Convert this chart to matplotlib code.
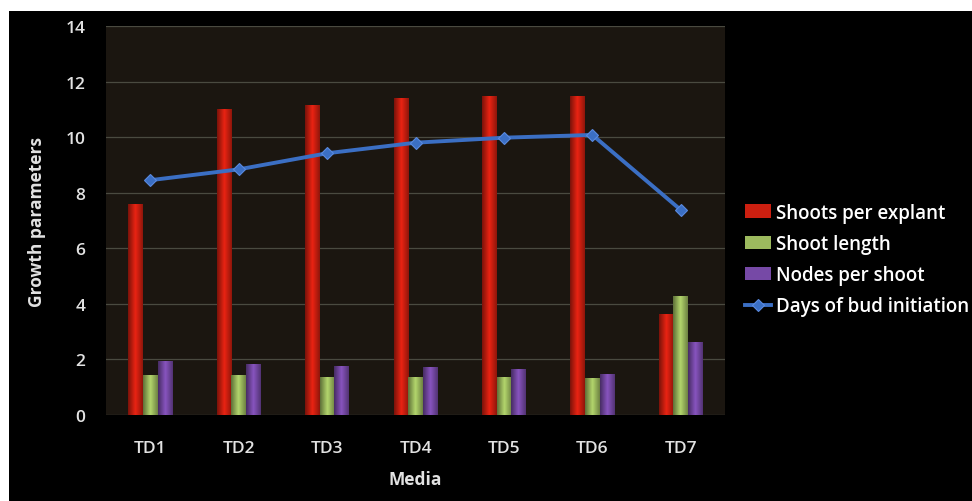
import matplotlib

matplotlib.use("Agg")
import matplotlib.pyplot as plt  # noqa: E402
import numpy as np  # noqa: E402
from matplotlib.colors import LinearSegmentedColormap, to_rgb  # noqa: E402
from matplotlib.patches import Rectangle  # noqa: E402

media = ["TD1", "TD2", "TD3", "TD4", "TD5", "TD6", "TD7"]
shoots_per_explant = [7.6, 11.0, 11.15, 11.42, 11.47, 11.47, 3.65]
shoot_length = [1.44, 1.44, 1.38, 1.38, 1.35, 1.33, 4.27]
nodes_per_shoot = [1.94, 1.85, 1.77, 1.74, 1.67, 1.46, 2.63]
days_bud_initiation = [8.45, 8.84, 9.42, 9.8, 9.98, 10.08, 7.38]

RED = "#cc1f10"
GREEN = "#9cba5e"
PURPLE = "#7649a6"
BLUE = "#3b6fc4"
TEXT = "#e2e2e2"

plt.rcParams["font.family"] = ["Open Sans", "DejaVu Sans"]


def _shade_bars(ax, bars, color):
    # cylinder-like shading: darker edges, lighter centre
    base = np.array(to_rgb(color))
    cmap = LinearSegmentedColormap.from_list(
        "cyl", [base * 0.6, np.minimum(base * 1.15, 1), base * 0.7]
    )
    grad = np.linspace(0, 1, 64).reshape(1, -1)
    for bar in bars:
        x, y = bar.get_x(), bar.get_y()
        w, h = bar.get_width(), bar.get_height()
        im = ax.imshow(grad, cmap=cmap, aspect="auto",
                       extent=(x, x + w, y, y + h), zorder=3)
        im.set_clip_path(bar)
        bar.set_facecolor("none")


fig = plt.figure(figsize=(9.72, 5.02), dpi=100, facecolor="black")
# thin white margin along the top and left edges
fig.patches.append(Rectangle((0, 490 / 502), 1, 12 / 502, transform=fig.transFigure,
                             facecolor="white", edgecolor="none"))
fig.patches.append(Rectangle((0, 0), 9 / 972, 1, transform=fig.transFigure,
                             facecolor="white", edgecolor="none"))

ax = fig.add_axes([106 / 972, 1 - 416 / 502, 619 / 972, 389 / 502])
ax.set_facecolor("#1b1610")

x = np.arange(len(media))
width = 0.165
series = [
    (shoots_per_explant, RED, "Shoots per explant", -width),
    (shoot_length, GREEN, "Shoot length", 0),
    (nodes_per_shoot, PURPLE, "Nodes per shoot", width),
]
for values, color, label, offset in series:
    bars = ax.bar(x + offset, values, width, color=color, label=label,
                  zorder=3, linewidth=0)
    _shade_bars(ax, bars, color)

ax.plot(x, days_bud_initiation, color=BLUE, lw=2.8, marker="D", markersize=6,
        markerfacecolor=BLUE, markeredgecolor="#5a8ae0", markeredgewidth=0.8,
        label="Days of bud initiation", zorder=4)

ax.set_xlim(-0.5, len(media) - 0.5)
ax.set_ylim(0, 14)
ax.set_yticks(range(0, 15, 2))
ax.set_xticks(x)
ax.set_xticklabels(media)
ax.yaxis.grid(True, color="#4a4a40", lw=0.9)
ax.set_axisbelow(True)
for spine in ax.spines.values():
    spine.set_visible(False)
ax.tick_params(axis="y", length=0, pad=15, labelsize=12.5, labelcolor=TEXT)
ax.tick_params(axis="x", length=0, pad=18, labelsize=12.5, labelcolor=TEXT)
for lbl in ax.get_xticklabels() + ax.get_yticklabels():
    lbl.set_fontweight("semibold")

ax.set_ylabel("Growth parameters", fontsize=12.5, fontweight="bold",
              color=TEXT, labelpad=14)
ax.set_xlabel("Media", fontsize=12.5, fontweight="bold", color=TEXT, labelpad=10)

handles, labels = ax.get_legend_handles_labels()
order = [1, 2, 3, 0]
leg = ax.legend([handles[i] for i in order], [labels[i] for i in order],
                loc="center left", bbox_to_anchor=(1.032, 0.40), frameon=False,
                borderpad=0, borderaxespad=0,
                prop={"size": 13.5, "weight": "semibold"}, labelcolor="white",
                handlelength=1.4, handletextpad=0.25, labelspacing=0.6)
for patch, color in zip(leg.get_patches(), [RED, GREEN, PURPLE]):
    patch.set_facecolor(color)

fig.savefig("out.png", dpi=100, facecolor=fig.get_facecolor())
